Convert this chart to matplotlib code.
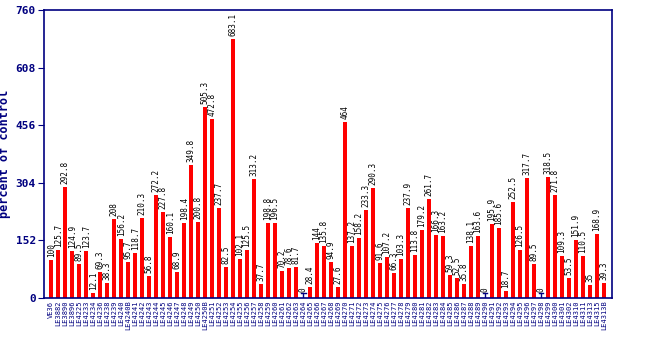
import matplotlib
matplotlib.use("Agg")
import matplotlib.pyplot as plt
import numpy as np

labels = ["VE36", "LE3882", "LE3890", "LE3896", "LE4225", "LE4233", "LE4234", "LE4236",
          "LE4238", "LE4239", "LE4240", "LE4240B", "LE4241", "LE4242", "LE4243", "LE4244",
          "LE4245", "LE4246", "LE4247", "LE4248", "LE4249", "LE4250", "LE4250B", "LE4251",
          "LE4252", "LE4253", "LE4254", "LE4255", "LE4256", "LE4257", "LE4258", "LE4259",
          "LE4260", "LE4261", "LE4262", "LE4263", "LE4264", "LE4265", "LE4266", "LE4267",
          "LE4268", "LE4269", "LE4270", "LE4271", "LE4272", "LE4273", "LE4274", "LE4275",
          "LE4276", "LE4277", "LE4278", "LE4279", "LE4280", "LE4281", "LE4282", "LE4283",
          "LE4284", "LE4285", "LE4286", "LE4287", "LE4288", "LE4289", "LE4290", "LE4291",
          "LE4292", "LE4293", "LE4294", "LE4295", "LE4296", "LE4297", "LE4298", "LE4299",
          "LE4300", "LE4301", "LE4302", "LE4310", "LE4311", "LE4313", "LE4315", "LE4313B"]

values = [100, 125.7, 292.8, 124.9, 89.5, 123.7, 12.1, 69.3, 38.3, 208,
          156.2, 95.7, 118.7, 210.3, 56.8, 272.2, 227.8, 160.1, 68.9, 198.4,
          349.8, 200.8, 505.3, 472.8, 237.7, 82.5, 683.1, 102.1, 125.5, 313.2,
          37.7, 198.8, 196.5, 70.2, 78.6, 81.7, 0, 28.4, 144, 135.8,
          94.9, 27.6, 464, 137.2, 158.2, 233.3, 290.3, 91.6, 107.2, 66.3,
          103.3, 237.9, 113.8, 179.2, 261.7, 166.3, 163.2, 59.3, 52.5, 35.8,
          138.1, 163.6, 0, 195.9, 185.6, 18.7, 252.5, 126.5, 317.7, 89.5,
          0, 318.5, 271.8, 109.3, 53.5, 151.9, 110.5, 35, 168.9, 39.3]

yticks = [0, 152, 304, 456, 608, 760]

navy = "#000080"
mono = "DejaVu Sans Mono"

fig = plt.figure(figsize=(6.5, 3.5), dpi=100)
ax = fig.add_axes([0.068, 0.149, 0.873, 0.822])

x = np.arange(len(values))
ax.bar(x, values, width=0.5, color="#ff0000", zorder=2)

for xi, v in zip(x, values):
    lab = ("%g" % v)
    if v == 0:
        ax.plot([xi, xi], [0, 12], color=navy, lw=1, zorder=3)
        ax.plot([xi - 0.35, xi + 0.35], [12, 12], color=navy, lw=1, zorder=3)
        ax.text(xi, 16, lab, rotation=90, ha="center", va="bottom",
                fontsize=5.5, family=mono, color="black")
    else:
        ax.text(xi, v + 8, lab, rotation=90, ha="center", va="bottom",
                fontsize=5.5, family=mono, color="black")

ax.set_xlim(-1, len(values) + 0.1)
ax.set_ylim(0, 760)
ax.set_yticks(yticks)
ax.set_yticklabels([str(t) for t in yticks], family=mono, fontsize=8,
                   color=navy, fontweight="bold")
ax.set_xticks(x)
ax.set_xticklabels(labels, rotation=90, family=mono, fontsize=5, color=navy)
ax.tick_params(axis="x", length=0, pad=2)
ax.tick_params(axis="y", length=4, color=navy, pad=2)
for s in ax.spines.values():
    s.set_color(navy)
    s.set_linewidth(1.2)
ax.set_ylabel("percent of control", family=mono, fontsize=8.5, color=navy,
              fontweight="bold", labelpad=3)

fig.savefig("out.png", dpi=100)
